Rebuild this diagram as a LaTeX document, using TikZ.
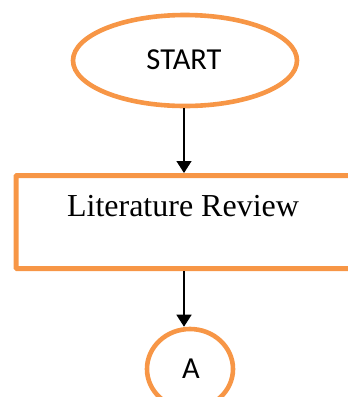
\documentclass[tikz,border=0pt]{standalone}
\usepackage{fontspec}
\setmainfont{Liberation Serif}
\newfontfamily\calib{Carlito}
\usetikzlibrary{shapes.geometric,arrows.meta}
\definecolor{orng}{HTML}{F79646}
\tikzset{
  oval/.style={ellipse, draw=orng, line width=4.6pt, inner sep=0pt, fill=white},
  procbox/.style={rectangle, draw=orng, line width=5pt, rounded corners=1pt, inner sep=0pt},
  flow/.style={line width=1.5pt, -{Triangle[length=12pt,width=15pt]}},
  sanslab/.style={font=\calib\fontsize{30.5}{34}\selectfont},
  seriflab/.style={font=\fontsize{32}{36}\selectfont}
}
\begin{document}
\begin{tikzpicture}[x=1pt,y=1pt]
\useasboundingbox (0,0) rectangle (348,-397);
\clip (0,0) rectangle (348,-397);
\node[oval, minimum width=224pt, minimum height=91pt] (start) at (185,-60.5) {};
\node[sanslab] (starttext) at (184,-60) {START};
\node[procbox, minimum width=384pt, minimum height=93pt] (lit) at (208,-222) {};
\node[seriflab] (littext) at (183,-206) {Literature Review};
\node[oval, minimum width=86pt, minimum height=80pt] (a) at (190,-369) {};
\node[sanslab] (atext) at (191,-369) {A};
\coordinate (ax) at (184,0);
\draw[flow] (ax |- start.south) -- (ax |- lit.north);
\draw[flow] (ax |- lit.south) -- (ax |- a.north);
\end{tikzpicture}
\end{document}
